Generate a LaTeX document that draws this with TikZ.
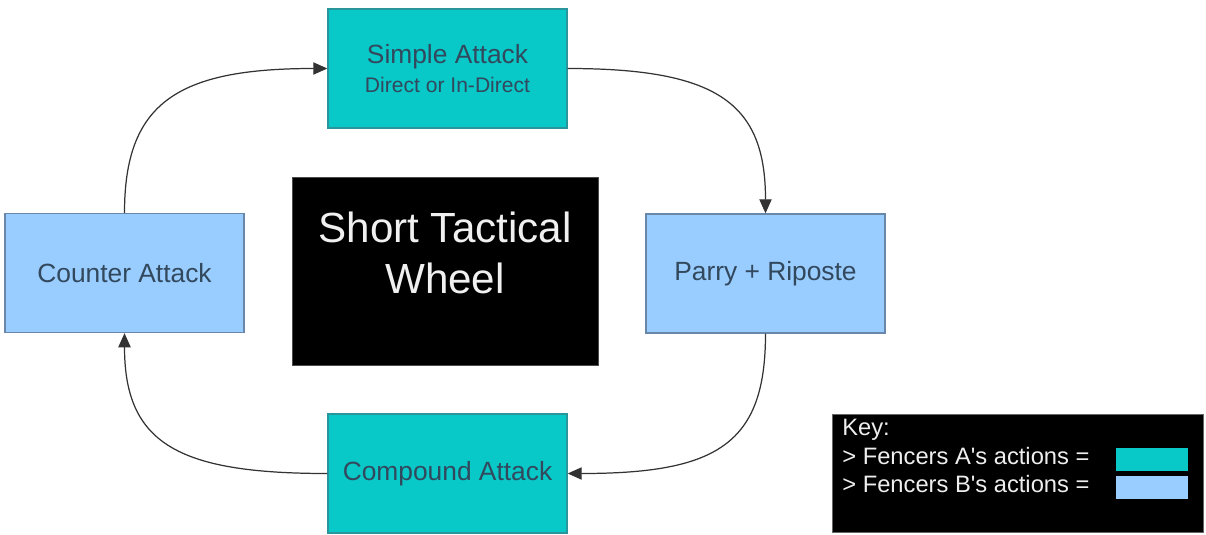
\documentclass[tikz,border=0pt]{standalone}
\usepackage{fontspec}
\setmainfont{Liberation Sans}
\usepackage{xcolor}
\usetikzlibrary{positioning,arrows.meta}

\definecolor{fencerA}{RGB}{8,200,200}
\definecolor{fencerAedge}{RGB}{40,150,155}
\definecolor{fencerB}{RGB}{153,204,255}
\definecolor{fencerBedge}{RGB}{105,135,170}
\definecolor{boxtext}{RGB}{50,72,92}
\definecolor{keytext}{RGB}{238,238,238}

\tikzset{
	actionA/.style={draw=fencerAedge,fill=fencerA,line width=0.8pt,minimum width=4.78cm,minimum height=2.38cm,text=boxtext,font=\fontsize{15}{17}\selectfont,align=center},
	actionB/.style={actionA,draw=fencerBedge,fill=fencerB},
	swatch/.style={minimum width=1.44cm,minimum height=0.46cm,inner sep=0pt},
	link/.style={-{Triangle[length=8pt,width=7pt]},line width=0.7pt,draw=black!80},
}

\begin{document}
\begin{tikzpicture}[x=0.02cm,y=-0.02cm]
	\useasboundingbox (0,0) rectangle (1206,534);
	% the four actions
	\node[actionA] (simple) at (447.5,68.5) {Simple Attack\\[-1pt]{\fontsize{12}{14}\selectfont Direct or In-Direct}};
	\node[actionB] (parry) at (765.5,273.5) {Parry + Riposte};
	\node[actionA] (compound) at (447.5,473.5) {Compound Attack};
	\node[actionB] (counter) at (124.5,273) {Counter Attack};
	% centre
	\node[fill=black,draw=black!70,minimum width=6.12cm,minimum height=3.76cm] (wheel) at (445,271) {};
	\node[text=white!94!black,font=\fontsize{24}{29.5}\selectfont,align=center] (title) at (445,253) {Short Tactical\\Wheel};
	% key
	\node[fill=black,draw=black!60,minimum width=7.42cm,minimum height=2.36cm] (key) at (1017.5,473) {};
	\node[text=keytext,font=\fontsize{13.5}{16.2}\selectfont,align=left,anchor=north west,inner sep=0pt] (keytxt) at (842,419) {Key:\\> Fencers A\textquotesingle s actions =\\> Fencers B\textquotesingle s actions =};
	\node[swatch,fill=fencerA] (swatchA) at (1152,459.5) {};
	\node[swatch,fill=fencerB] (swatchB) at (1152,487.5) {};
	% the wheel
	\draw[link] (counter.north) .. controls +(0,-110) and +(-150,0) .. (simple.west);
	\draw[link] (simple.east) .. controls +(150,0) and +(0,-110) .. (parry.north);
	\draw[link] (parry.south) .. controls +(0,110) and +(150,0) .. (compound.east);
	\draw[link] (compound.west) .. controls +(-150,0) and +(0,110) .. (counter.south);
\end{tikzpicture}
\end{document}
